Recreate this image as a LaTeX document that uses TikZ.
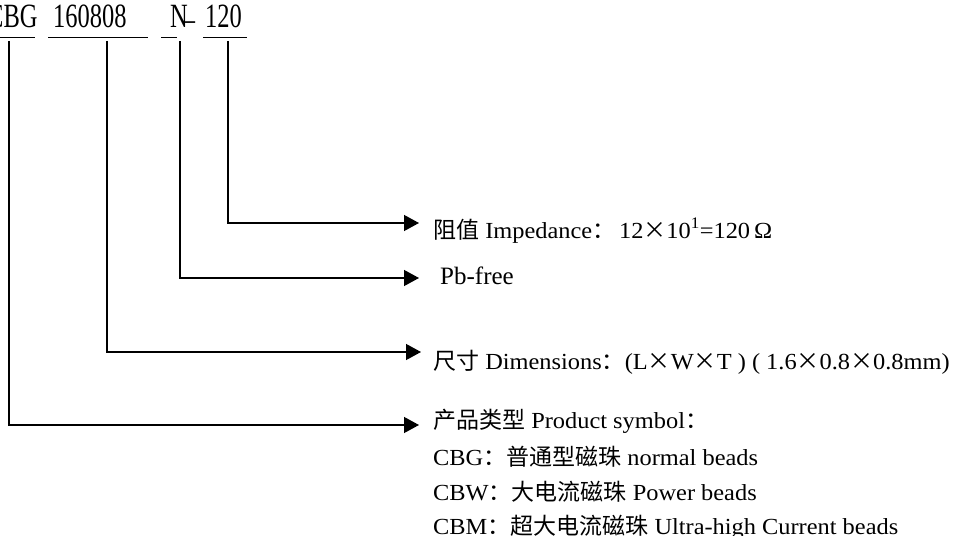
\documentclass[tikz,border=0pt]{standalone}
\usepackage{fontspec}
\setmainfont{Liberation Serif}
\newfontfamily\cjk{Noto Sans CJK SC}
\newfontfamily\topfont[FakeStretch=0.72]{Liberation Serif}
\newfontfamily\lblfont[FakeStretch=1.06]{Liberation Serif}
\usetikzlibrary{arrows.meta}
\begin{document}
\begin{tikzpicture}[x=1pt,y=-1pt,
  conn/.style={line width=1.3pt,-{Triangle[length=15pt,width=16pt]}},
  uline/.style={line width=1pt},
  code/.style={anchor=base west,inner sep=0pt,font=\topfont\fontsize{34}{34}\selectfont},
  lbl/.style={anchor=base west,inner sep=0pt,font=\lblfont\fontsize{23}{23}\selectfont},
  biglbl/.style={anchor=base west,inner sep=0pt,font=\fontsize{25}{25}\selectfont}]
\useasboundingbox (0,0) rectangle (957,535);

% code parts
\node[code] (cbg) at (-13,28) {CBG};
\node[code] (size) at (53,28) {160808};
\node[code] (pb) at (170,28) {N\kern-5pt\raisebox{-3pt}{–}};
\node[code] (imp) at (205,28) {120};

% underlines
\draw[uline] (0,38) -- (35,38);
\draw[uline] (48,38) -- (148,38);
\draw[uline] (161,38) -- (177,38);
\draw[uline] (203,38) -- (247,38);

% connector start points and tips
\coordinate (s1) at (228,41);
\coordinate (s2) at (180,41);
\coordinate (s3) at (107,41);
\coordinate (s4) at (9,41);
\coordinate (t1) at (419,223);
\coordinate (t2) at (419,278);
\coordinate (t3) at (421,352);
\coordinate (t4) at (419,425);

\draw[conn] (s1) |- (t1);
\draw[conn] (s2) |- (t2);
\draw[conn] (s3) |- (t3);
\draw[conn] (s4) |- (t4);

% labels
\node[lbl] (limp) at (433,238) {{\cjk 阻值} Impedance{\cjk ：}\,12{\cjk ×}10\textsuperscript{1}=120\,Ω};
\node[biglbl] (lpb) at (440,284) {Pb-free};
\node[lbl] (ldim) at (433,369) {{\cjk 尺寸} Dimensions{\cjk ：}(L{\cjk ×}W{\cjk ×}T ) ( 1.6{\cjk ×}0.8{\cjk ×}0.8mm)};
\node[lbl] (lprod) at (433,428) {{\cjk 产品类型} Product symbol{\cjk ：}};
\node[lbl] (lcbg) at (433,465) {CBG{\cjk ：普通型磁珠} normal beads};
\node[lbl] (lcbw) at (433,500) {CBW{\cjk ：大电流磁珠} Power beads};
\node[lbl] (lcbm) at (433,534) {CBM{\cjk ：超大电流磁珠} Ultra-high Current beads};
\end{tikzpicture}
\end{document}
